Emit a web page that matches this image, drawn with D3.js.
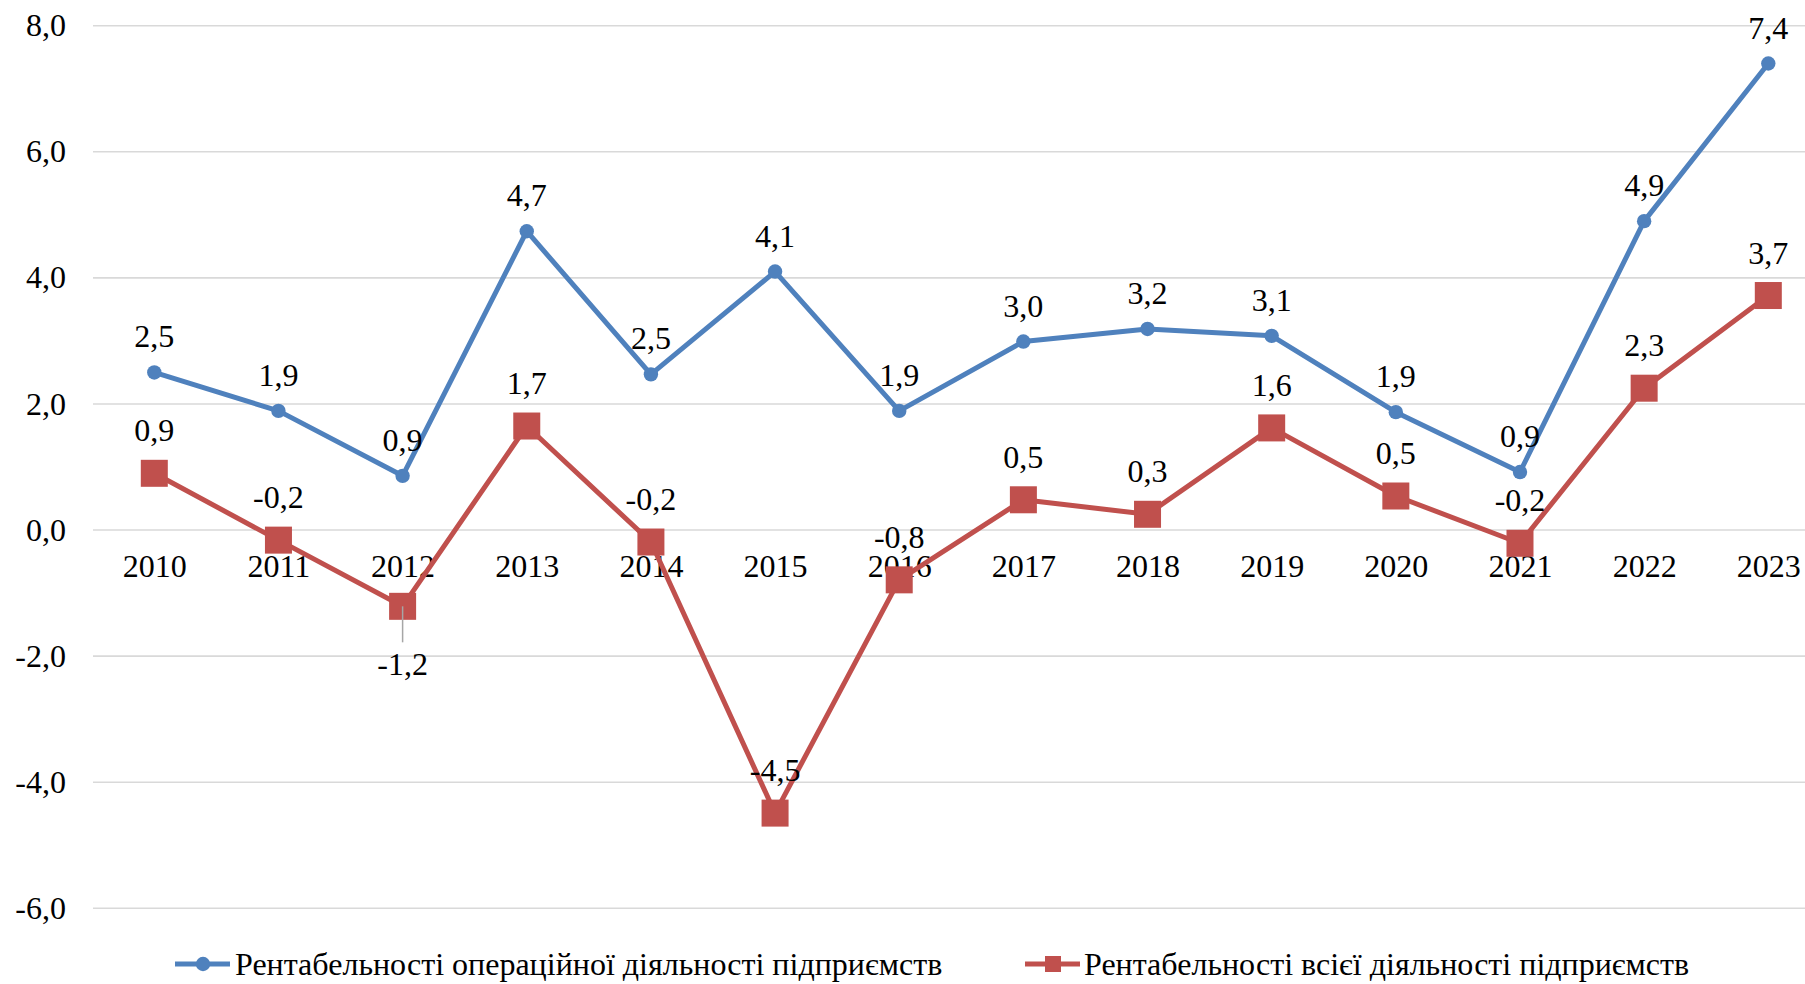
<!DOCTYPE html>
<html>
<head>
<meta charset="utf-8">
<script src="https://cdn.jsdelivr.net/npm/d3@7"></script>
<style>
  html, body { margin: 0; padding: 0; background: #fff; }
  svg { display: block; }
</style>
</head>
<body>
<svg id="chart" width="1805" height="984"></svg>
<script>
const years = ["2010","2011","2012","2013","2014","2015","2016","2017","2018","2019","2020","2021","2022","2023"];
const operating = [2.5, 1.89, 0.86, 4.74, 2.47, 4.1, 1.89, 2.99, 3.19, 3.08, 1.87, 0.92, 4.9, 7.4];
const total = [0.9, -0.16, -1.21, 1.65, -0.19, -4.49, -0.79, 0.48, 0.25, 1.62, 0.54, -0.21, 2.25, 3.72];
const yTicks = [-6, -4, -2, 0, 2, 4, 6, 8];
const seriesNames = ["Рентабельності операційної діяльності підприємств", "Рентабельності всієї діяльності підприємств"];

const BLUE = "#4F81BD", RED = "#C0504D", GRID = "#D9D9D9";
const FS = 30.5;
const SX = 1.05;
const FONT = "'Liberation Serif', 'Times New Roman', serif";

const svg = d3.select("#chart");
const x = d3.scalePoint().domain(years).range([154.3, 1768.3]);
const y = d3.scaleLinear().domain([-6, 8]).range([908.3, 25.7]);
const fmt = v => (Math.round(v * 10) / 10).toFixed(1).replace(".", ",");

function styleText(sel) {
  return sel.style("font-family", FONT).style("font-size", FS + "px").attr("fill", "#000");
}

// gridlines
svg.append("g").selectAll("line").data(yTicks).join("line")
  .attr("x1", 93).attr("x2", 1805)
  .attr("y1", d => y(d)).attr("y2", d => y(d))
  .attr("stroke", GRID).attr("stroke-width", 1.6);

// y axis labels
const yAxis = d3.axisLeft(y).tickValues(yTicks).tickSize(0).tickPadding(0)
  .tickFormat(d => d3.format(".1f")(d).replace(".", ",").replace("−", "-"));
const gy = svg.append("g").attr("transform", "translate(66,0)").call(yAxis);
gy.select(".domain").remove();
styleText(gy.selectAll("text")).attr("dy", "0.33em").attr("x", 0).attr("transform", `scale(${SX},1)`);

// x axis category labels
const xAxis = d3.axisBottom(x).tickSize(0).tickPadding(0);
const gx = svg.append("g").attr("transform", `translate(0,${y(0)})`).call(xAxis);
gx.select(".domain").remove();
styleText(gx.selectAll("text")).attr("dy", 0).attr("y", 47).attr("transform", `scale(${SX},1)`);

const line = d3.line().x((d, i) => x(years[i])).y(d => y(d));

// operating series
svg.append("path").datum(operating).attr("d", line)
  .attr("fill", "none").attr("stroke", BLUE).attr("stroke-width", 5).attr("stroke-linejoin", "round");
svg.append("g").selectAll("circle").data(operating).join("circle")
  .attr("cx", (d, i) => x(years[i])).attr("cy", d => y(d)).attr("r", 7.2).attr("fill", BLUE);

// total series
svg.append("path").datum(total).attr("d", line)
  .attr("fill", "none").attr("stroke", RED).attr("stroke-width", 5).attr("stroke-linejoin", "round");
const SQ = 27;
svg.append("g").selectAll("rect").data(total).join("rect")
  .attr("x", (d, i) => x(years[i]) - SQ / 2).attr("y", d => y(d) - SQ / 2)
  .attr("width", SQ).attr("height", SQ).attr("fill", RED);

// leader line for 2012 total label
const leaderIdx = 2;
svg.append("line")
  .attr("x1", x(years[leaderIdx])).attr("x2", x(years[leaderIdx]))
  .attr("y1", y(total[leaderIdx])).attr("y2", y(total[leaderIdx]) + 36)
  .attr("stroke", "#A6A6A6").attr("stroke-width", 1.5);

// data labels
styleText(svg.append("g").selectAll("text").data(operating).join("text")
  .attr("transform", (d, i) => `translate(${x(years[i])},${y(d) - 25}) scale(${SX},1)`)
  .attr("text-anchor", "middle").text(d => fmt(d)));
styleText(svg.append("g").selectAll("text").data(total).join("text")
  .attr("transform", (d, i) => `translate(${x(years[i])},${i === leaderIdx ? y(d) + 69 : y(d) - 32}) scale(${SX},1)`)
  .attr("text-anchor", "middle").text(d => fmt(d)));

// legend
const legY = 964;
const leg = svg.append("g");
leg.append("line").attr("x1", 175).attr("x2", 230).attr("y1", legY).attr("y2", legY)
  .attr("stroke", BLUE).attr("stroke-width", 5);
leg.append("circle").attr("cx", 203).attr("cy", legY).attr("r", 7.2).attr("fill", BLUE);
styleText(leg.append("text").attr("transform", `translate(235,${legY + 10.5}) scale(${SX},1)`).text(seriesNames[0]));

leg.append("line").attr("x1", 1025).attr("x2", 1080).attr("y1", legY).attr("y2", legY)
  .attr("stroke", RED).attr("stroke-width", 5);
leg.append("rect").attr("x", 1053 - 8).attr("y", legY - 8).attr("width", 16).attr("height", 16).attr("fill", RED);
styleText(leg.append("text").attr("transform", `translate(1084,${legY + 10.5}) scale(${SX},1)`).text(seriesNames[1]));
</script>
</body>
</html>
